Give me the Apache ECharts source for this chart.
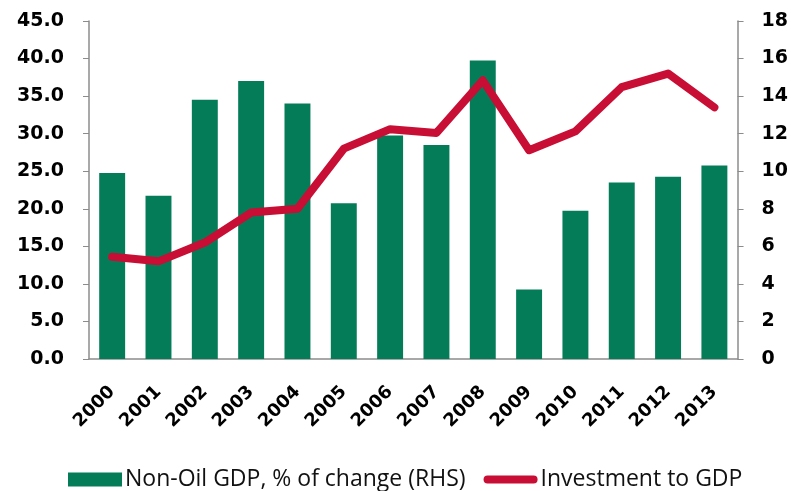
<!DOCTYPE html>
<html>
<head>
    <meta charset="utf-8">
    <script src="https://cdn.jsdelivr.net/npm/echarts@6/dist/echarts.min.js"></script>
    <style>
        html, body { margin: 0; padding: 0; background: #fff; }
    </style>
</head>
<body>
<div id="main" style="width: 791px;height:491px;"></div>

<script>
    var years = ['2000', '2001', '2002', '2003', '2004', '2005', '2006',
        '2007', '2008', '2009', '2010', '2011', '2012', '2013'];
    // bars, right axis
    var nonOilGdp = [9.9, 8.7, 13.8, 14.8, 13.6, 8.3, 11.9, 11.4, 15.9, 3.7, 7.9, 9.4, 9.7, 10.3];
    // line, left axis
    var investment = [13.6, 13.0, 15.5, 19.5, 20.0, 28.0, 30.6, 30.1, 37.1, 27.8, 30.3, 36.2, 38.0, 33.5];

    var myChart = echarts.init(document.getElementById('main'));

    var axisGrey = '#8c8c8c';
    var labelFont = 'DejaVu Sans';
    var red = '#c80e34';
    var green = '#047c58';

    var option = {
        animation: false,
        grid: {
            left: 89,
            right: 53,
            top: 21,
            bottom: 132
        },
        legend: {
            left: 63,
            top: 463,
            itemGap: 18,
            itemWidth: 54,
            itemHeight: 14,
            textStyle: {
                fontFamily: 'Open Sans',
                fontSize: 23,
                color: '#111',
                padding: [0, 0, 0, -2]
            },
            data: [
                {name: 'Non-Oil GDP, % of change (RHS)', icon: 'rect'},
                {name: 'Investment to GDP', icon: 'path://M4,0 L50,0 A4,4 0 0 1 50,8 L4,8 A4,4 0 0 1 4,0 Z'}
            ]
        },
        xAxis: {
            type: 'category',
            data: years,
            axisLine: {lineStyle: {color: axisGrey, width: 1.5}},
            axisTick: {alignWithLabel: true, length: 5, lineStyle: {color: axisGrey}},
            axisLabel: {
                rotate: 45,
                interval: 0,
                margin: 30,
                fontFamily: labelFont,
                fontWeight: 'bold',
                fontSize: 18,
                color: '#000'
            }
        },
        yAxis: [
            {
                type: 'value',
                min: 0,
                max: 45,
                interval: 5,
                position: 'left',
                splitLine: {show: false},
                axisLine: {show: true, lineStyle: {color: axisGrey, width: 1.5}},
                axisTick: {show: true, length: 6, lineStyle: {color: axisGrey}},
                axisLabel: {
                    formatter: function (v) { return v.toFixed(1); },
                    margin: 25,
                    fontFamily: labelFont,
                    fontWeight: 'bold',
                    fontSize: 19,
                    color: '#000'
                }
            },
            {
                type: 'value',
                min: 0,
                max: 18,
                interval: 2,
                position: 'right',
                splitLine: {show: false},
                axisLine: {show: true, lineStyle: {color: axisGrey, width: 1.5}},
                axisTick: {show: true, length: 6, lineStyle: {color: axisGrey}},
                axisLabel: {
                    margin: 24,
                    fontFamily: labelFont,
                    fontWeight: 'bold',
                    fontSize: 19,
                    color: '#000'
                }
            }
        ],
        series: [
            {
                name: 'Non-Oil GDP, % of change (RHS)',
                type: 'bar',
                yAxisIndex: 1,
                data: nonOilGdp,
                barCategoryGap: '44%',
                itemStyle: {color: green}
            },
            {
                name: 'Investment to GDP',
                type: 'line',
                yAxisIndex: 0,
                data: investment,
                symbol: 'none',
                lineStyle: {color: red, width: 8, cap: 'round', join: 'round'},
                itemStyle: {color: red}
            }
        ]
    };
    myChart.setOption(option);
</script>
</body>
</html>
